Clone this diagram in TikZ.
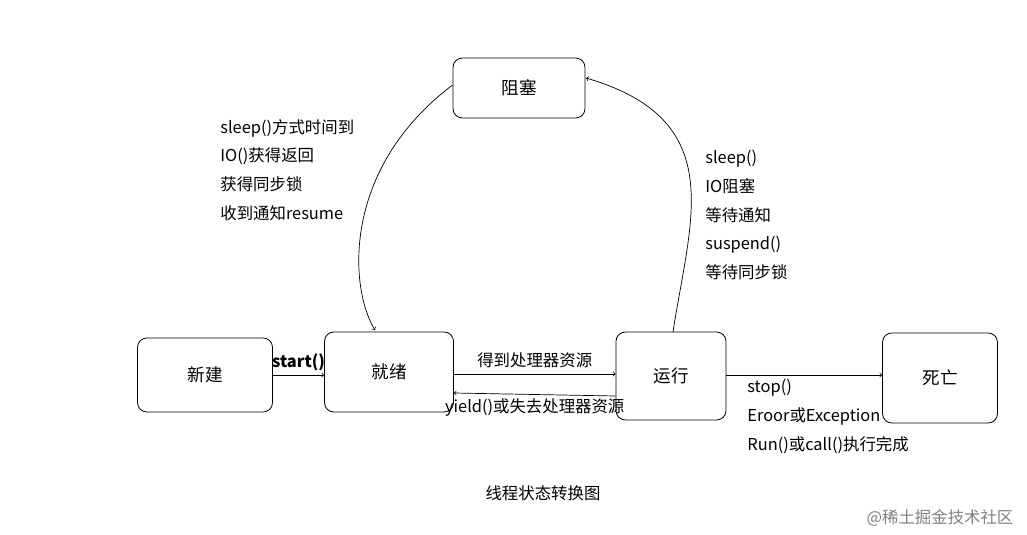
\documentclass[tikz,border=0pt]{standalone}
\usepackage{fontspec}
\setmainfont{Noto Sans CJK SC}
\begin{document}
\begin{tikzpicture}[x=0.03cm,y=-0.03cm,
  st/.style={draw,rounded corners=8pt,line width=0.7pt,font=\fontsize{15}{18}\selectfont},
  lab/.style={font=\fontsize{14}{24.5}\selectfont,inner sep=1pt},
  ar/.style={->,line width=0.6pt}]
\useasboundingbox (0,0) rectangle (1027,535);
\node[st,minimum width=132*0.03cm,minimum height=60*0.03cm] (zs) at (519,88) {阻塞};
\node[st,minimum width=135*0.03cm,minimum height=74*0.03cm] (xj) at (205,375) {新建};
\node[st,minimum width=129*0.03cm,minimum height=80*0.03cm] (jx) at (389,372) {就绪};
\node[st,minimum width=110*0.03cm,minimum height=88*0.03cm] (yx) at (671,376) {运行};
\node[st,minimum width=115*0.03cm,minimum height=90*0.03cm] (sw) at (940,378) {死亡};
\draw[ar] (xj.east|-0,375) -- node[above,lab,font=\fontsize{14}{16}\selectfont\bfseries,yshift=2pt] {start()} (jx.west|-0,375);
\draw[ar] (jx.east|-0,374) -- node[above,lab,yshift=4pt] {得到处理器资源} (yx.west|-0,374);
\draw[ar] (yx.west|-0,396) -- node[below,lab,yshift=-2pt] {yield()或失去处理器资源} (jx.east|-0,393);
\draw[ar] (yx.east|-0,375) -- (sw.west|-0,375);
\node[lab,anchor=north west,align=left] (l3) at (746,378) {stop()\\Eroor或Exception\\Run()或call()执行完成};
\draw[ar] (zs.west|-0,85) .. controls (340,170) and (350,290) .. (375,330);
\node[lab,anchor=north west,align=left] (l1) at (219,118) {sleep()方式时间到\\IO()获得返回\\获得同步锁\\收到通知resume};
\draw[ar] (673,332) .. controls (690,220) and (730,120) .. (586,78);
\node[lab,anchor=north west,align=left] (l2) at (704,149) {sleep()\\IO阻塞\\等待通知\\suspend()\\等待同步锁};
\node[lab] (cap) at (543,493) {线程状态转换图};
\node[lab,text=gray] (wm) at (940,518) {@稀土掘金技术社区};
\end{tikzpicture}
\end{document}
